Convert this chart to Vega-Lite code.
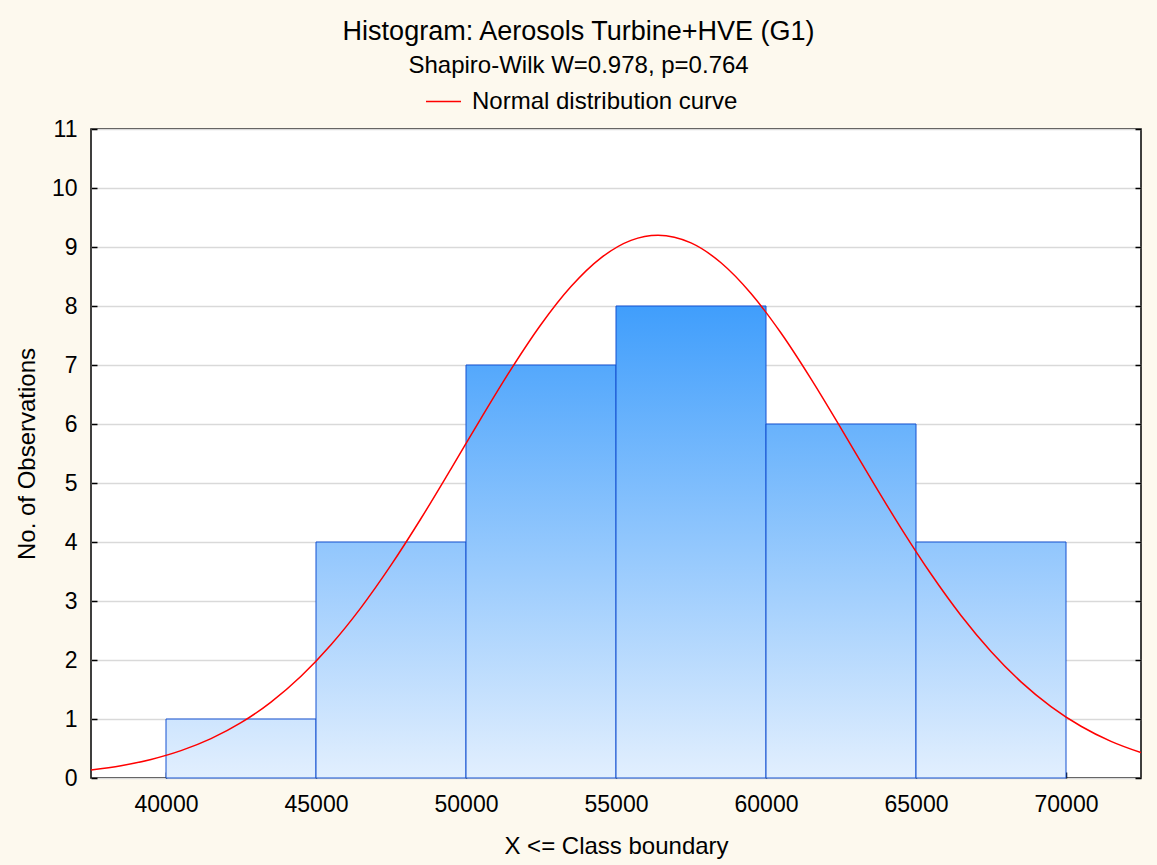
{
  "$schema": "https://vega.github.io/schema/vega-lite/v6.json",
  "width": 1050,
  "height": 649,
  "autosize": "none",
  "padding": {"left": 91, "top": 129, "right": 16, "bottom": 87},
  "background": "#fdf9ee",
  "config": {
    "font": "Liberation Sans",
    "view": {"fill": "white", "stroke": "black", "strokeWidth": 1.5},
    "axis": {"labelFontSize": 23, "titleFontSize": 24, "labelColor": "black", "titleColor": "black", "titleFontWeight": "normal", "domain": false, "tickColor": "black", "tickWidth": 1.5}
  },
  "title": {
    "text": "Histogram: Aerosols Turbine+HVE (G1)",
    "subtitle": "Shapiro-Wilk W=0.978, p=0.764",
    "fontSize": 27,
    "fontWeight": "normal",
    "color": "black",
    "subtitleFontSize": 24,
    "subtitleColor": "black",
    "subtitlePadding": 8,
    "anchor": "middle",
    "frame": "bounds",
    "offset": 4
  },
  "resolve": {"axis": {"y": "independent"}},
  "datasets": {
    "bins": [
      {"start": 40000, "end": 45000, "count": 1},
      {"start": 45000, "end": 50000, "count": 4},
      {"start": 50000, "end": 55000, "count": 7},
      {"start": 55000, "end": 60000, "count": 8},
      {"start": 60000, "end": 65000, "count": 6},
      {"start": 65000, "end": 70000, "count": 4}
    ],
    "curve": [
      {"x": 37500, "y": 0.135}, {"x": 38500, "y": 0.208}, {"x": 39500, "y": 0.315},
      {"x": 40500, "y": 0.464}, {"x": 41500, "y": 0.667}, {"x": 42500, "y": 0.937},
      {"x": 43500, "y": 1.287}, {"x": 44500, "y": 1.725}, {"x": 45500, "y": 2.259},
      {"x": 46500, "y": 2.888}, {"x": 47500, "y": 3.607}, {"x": 48500, "y": 4.398},
      {"x": 49500, "y": 5.24}, {"x": 50500, "y": 6.097}, {"x": 51500, "y": 6.927},
      {"x": 52500, "y": 7.687}, {"x": 53500, "y": 8.33}, {"x": 54500, "y": 8.816},
      {"x": 55500, "y": 9.113}, {"x": 56400, "y": 9.2}, {"x": 57500, "y": 9.069},
      {"x": 58500, "y": 8.733}, {"x": 59500, "y": 8.212}, {"x": 60500, "y": 7.542},
      {"x": 61500, "y": 6.765}, {"x": 62500, "y": 5.927}, {"x": 63500, "y": 5.07},
      {"x": 64500, "y": 4.236}, {"x": 65500, "y": 3.457}, {"x": 66500, "y": 2.755},
      {"x": 67500, "y": 2.145}, {"x": 68500, "y": 1.63}, {"x": 69500, "y": 1.211},
      {"x": 70500, "y": 0.877}, {"x": 71500, "y": 0.621}, {"x": 72500, "y": 0.43}
    ]
  },
  "layer": [
    {
      "data": {"name": "bins"},
      "mark": {"type": "rect", "stroke": "#1450d0", "strokeWidth": 1},
      "encoding": {
        "x": {
          "field": "start", "type": "quantitative",
          "scale": {"domain": [37500, 72500], "nice": false, "zero": false},
          "axis": {"values": [40000, 45000, 50000, 55000, 60000, 65000, 70000], "format": "d", "grid": false, "tickSize": -6, "labelPadding": 21, "title": "X <= Class boundary", "titlePadding": 18}
        },
        "x2": {"field": "end"},
        "y": {
          "field": "count", "type": "quantitative",
          "scale": {"domain": [0, 11], "nice": false},
          "axis": {"values": [0, 1, 2, 3, 4, 5, 6, 7, 8, 9, 10, 11], "format": "d", "grid": true, "gridColor": "#d9d9d9", "gridWidth": 1.5, "tickSize": -6, "labelPadding": 20, "title": "No. of Observations", "titlePadding": 12}
        },
        "y2": {"datum": 0},
        "fill": {
          "condition": [
            {"test": "datum.count == 8", "value": {"gradient": "linear", "x1": 0, "y1": 0, "x2": 0, "y2": 1, "stops": [{"offset": 0, "color": "#409efc"}, {"offset": 1, "color": "#e2effe"}]}},
            {"test": "datum.count == 7", "value": {"gradient": "linear", "x1": 0, "y1": 0, "x2": 0, "y2": 1, "stops": [{"offset": 0, "color": "#54a8fc"}, {"offset": 1, "color": "#e2effe"}]}},
            {"test": "datum.count == 6", "value": {"gradient": "linear", "x1": 0, "y1": 0, "x2": 0, "y2": 1, "stops": [{"offset": 0, "color": "#68b2fc"}, {"offset": 1, "color": "#e2effe"}]}},
            {"test": "datum.count == 4", "value": {"gradient": "linear", "x1": 0, "y1": 0, "x2": 0, "y2": 1, "stops": [{"offset": 0, "color": "#91c6fd"}, {"offset": 1, "color": "#e2effe"}]}}
          ],
          "value": {"gradient": "linear", "x1": 0, "y1": 0, "x2": 0, "y2": 1, "stops": [{"offset": 0, "color": "#cee5fe"}, {"offset": 1, "color": "#e2effe"}]}
        }
      }
    },
    {
      "data": {"name": "curve"},
      "mark": {"type": "line", "interpolate": "monotone", "strokeWidth": 1.5, "clip": true},
      "encoding": {
        "x": {"field": "x", "type": "quantitative"},
        "y": {"field": "y", "type": "quantitative", "axis": {"orient": "right", "values": [0, 1, 2, 3, 4, 5, 6, 7, 8, 9, 10, 11], "labels": false, "grid": false, "tickSize": -6, "title": null}},
        "stroke": {
          "datum": "Normal distribution curve",
          "type": "nominal",
          "scale": {"range": ["#ff0000"]},
          "legend": {"title": null, "orient": "none", "legendX": 334, "legendY": -46, "symbolType": "stroke", "symbolSize": 1225, "symbolStrokeWidth": 1.5, "labelFontSize": 24, "labelColor": "black", "labelLimit": 500, "labelOffset": 10}
        }
      }
    }
  ]
}
